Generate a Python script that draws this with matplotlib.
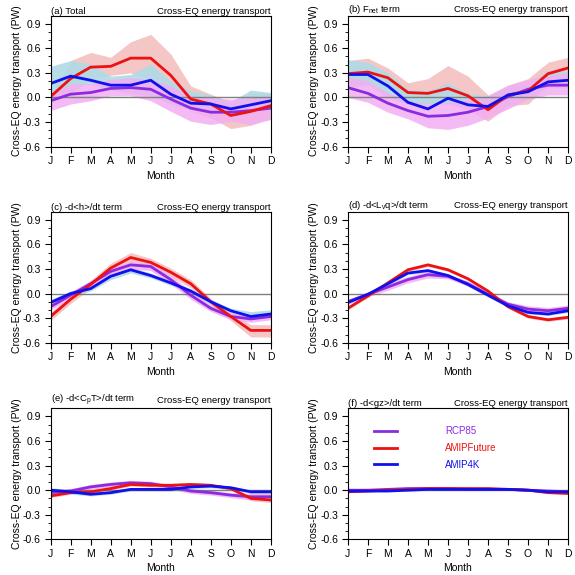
import matplotlib
matplotlib.use("Agg")
import matplotlib.pyplot as plt
import numpy as np

plt.rcParams['font.family'] = ['Liberation Sans', 'DejaVu Sans']
plt.rcParams['mathtext.fontset'] = 'custom'
plt.rcParams['mathtext.rm'] = 'Liberation Sans'
plt.rcParams['mathtext.default'] = 'regular'

months = ['J','F','M','A','M','J','J','A','S','O','N','D']
titles_left = ['(a) Total', '(b) F$_{net}$ term', '(c) -d<h>/dt term',
               '(d) -d<L$_v$q>/dt term', '(e) -d<C$_p$T>/dt term', '(f) -d<gz>/dt term']
series_names = ['RCP85', 'AMIPFuture', 'AMIP4K']

# (a)
a_rcp = [-0.04,0.04,0.06,0.11,0.12,0.10,-0.02,-0.13,-0.18,-0.18,-0.16,-0.13]
a_rcp_lo = [-0.16,-0.08,-0.04,0.02,0.02,-0.04,-0.17,-0.29,-0.33,-0.29,-0.33,-0.27]
a_rcp_hi = [0.06,0.16,0.17,0.22,0.24,0.22,0.14,0.02,0.0,-0.02,0.0,0.0]
a_fut = [0.01,0.23,0.37,0.38,0.48,0.48,0.27,-0.02,-0.08,-0.22,-0.17,-0.10]
a_fut_lo = [-0.03,0.05,0.22,0.27,0.30,0.22,0.05,-0.17,-0.25,-0.38,-0.34,-0.25]
a_fut_hi = [0.03,0.45,0.55,0.49,0.68,0.77,0.53,0.14,0.04,-0.06,0.05,0.05]
a_4k = [0.17,0.26,0.21,0.15,0.15,0.21,0.04,-0.07,-0.08,-0.14,-0.09,-0.04]
a_4k_lo = [-0.04,0.15,0.16,0.09,0.05,0.02,-0.08,-0.15,-0.17,-0.22,-0.15,-0.10]
a_4k_hi = [0.38,0.45,0.41,0.26,0.28,0.41,0.20,0.08,0.03,-0.05,0.09,0.06]
# (b)
b_rcp = [0.12,0.05,-0.07,-0.16,-0.23,-0.22,-0.18,-0.11,0.01,0.10,0.15,0.15]
b_rcp_lo = [0.0,-0.06,-0.18,-0.26,-0.37,-0.39,-0.34,-0.25,-0.14,-0.02,0.03,0.03]
b_rcp_hi = [0.25,0.20,0.06,-0.04,-0.08,-0.06,-0.02,0.02,0.15,0.22,0.27,0.30]
b_fut = [0.29,0.31,0.24,0.06,0.05,0.11,0.02,-0.15,0.03,0.08,0.29,0.36]
b_fut_lo = [0.15,0.16,0.10,-0.06,-0.08,-0.08,-0.15,-0.29,-0.10,-0.08,0.15,0.22]
b_fut_hi = [0.45,0.48,0.36,0.18,0.23,0.39,0.26,0.03,0.15,0.23,0.43,0.49]
b_4k = [0.28,0.28,0.14,-0.06,-0.14,-0.01,-0.09,-0.11,0.03,0.07,0.19,0.21]
b_4k_lo = [0.12,0.15,0.00,-0.08,-0.08,-0.07,-0.12,-0.14,-0.05,0.0,0.12,0.12]
b_4k_hi = [0.46,0.43,0.30,0.10,0.08,0.18,0.05,0.02,0.12,0.17,0.33,0.32]
# (c)
c_rcp = [-0.16,-0.02,0.12,0.27,0.35,0.33,0.17,-0.02,-0.18,-0.28,-0.31,-0.28]
c_rcp_lo = [-0.20,-0.06,0.08,0.22,0.30,0.28,0.12,-0.07,-0.22,-0.32,-0.35,-0.32]
c_rcp_hi = [-0.12,0.02,0.16,0.31,0.39,0.37,0.22,0.03,-0.14,-0.24,-0.27,-0.24]
c_fut = [-0.28,-0.07,0.11,0.31,0.44,0.38,0.26,0.12,-0.10,-0.28,-0.45,-0.45]
c_fut_lo = [-0.33,-0.12,0.06,0.25,0.38,0.33,0.21,0.07,-0.14,-0.33,-0.53,-0.53]
c_fut_hi = [-0.23,-0.02,0.16,0.37,0.50,0.43,0.31,0.17,-0.06,-0.23,-0.38,-0.38]
c_4k = [-0.11,0.00,0.06,0.21,0.29,0.22,0.13,0.03,-0.10,-0.21,-0.28,-0.25]
c_4k_lo = [-0.14,-0.03,0.03,0.17,0.25,0.19,0.10,0.00,-0.13,-0.24,-0.31,-0.28]
c_4k_hi = [-0.07,0.03,0.09,0.24,0.32,0.25,0.16,0.06,-0.07,-0.18,-0.22,-0.20]
# (d)
d_rcp = [-0.10,-0.01,0.08,0.17,0.23,0.21,0.12,-0.01,-0.13,-0.19,-0.21,-0.18]
d_rcp_lo = [-0.13,-0.04,0.04,0.13,0.19,0.18,0.09,-0.04,-0.16,-0.23,-0.25,-0.22]
d_rcp_hi = [-0.07,0.02,0.12,0.21,0.27,0.24,0.15,0.02,-0.10,-0.15,-0.17,-0.14]
d_fut = [-0.18,-0.03,0.13,0.29,0.35,0.29,0.18,0.03,-0.16,-0.28,-0.32,-0.29]
d_fut_lo = [-0.20,-0.05,0.11,0.27,0.33,0.27,0.16,0.01,-0.18,-0.30,-0.34,-0.31]
d_fut_hi = [-0.16,-0.01,0.15,0.31,0.37,0.31,0.20,0.05,-0.14,-0.26,-0.30,-0.27]
d_4k = [-0.11,-0.01,0.12,0.25,0.28,0.22,0.11,-0.02,-0.15,-0.23,-0.25,-0.21]
d_4k_lo = [-0.13,-0.03,0.10,0.23,0.26,0.20,0.09,-0.04,-0.17,-0.25,-0.27,-0.23]
d_4k_hi = [-0.09,0.01,0.14,0.27,0.30,0.24,0.13,0.00,-0.13,-0.21,-0.23,-0.19]
# (e)
e_rcp = [-0.03,-0.01,0.04,0.07,0.09,0.08,0.04,-0.01,-0.03,-0.06,-0.08,-0.08]
e_rcp_lo = [-0.06,-0.04,0.01,0.04,0.06,0.05,0.01,-0.04,-0.06,-0.09,-0.12,-0.12]
e_rcp_hi = [0.00,0.02,0.07,0.10,0.12,0.11,0.07,0.02,0.00,-0.03,-0.04,-0.04]
e_fut = [-0.07,-0.03,-0.02,0.02,0.07,0.06,0.06,0.07,0.06,0.02,-0.10,-0.12]
e_fut_lo = [-0.09,-0.05,-0.04,0.00,0.05,0.04,0.04,0.05,0.04,0.00,-0.13,-0.15]
e_fut_hi = [-0.05,-0.01,0.00,0.04,0.09,0.08,0.08,0.09,0.08,0.04,-0.07,-0.09]
e_4k = [0.00,-0.02,-0.05,-0.03,0.01,0.01,0.01,0.04,0.05,0.03,-0.02,-0.02]
e_4k_lo = [-0.04,-0.05,-0.07,-0.05,-0.01,-0.01,-0.01,0.02,0.03,0.01,-0.04,-0.04]
e_4k_hi = [0.03,0.01,-0.03,-0.01,0.03,0.03,0.03,0.06,0.07,0.05,0.00,0.00]
# (f)
f_rcp = [0.00,0.00,0.01,0.02,0.02,0.02,0.01,0.01,0.01,0.00,-0.01,-0.02]
f_rcp_lo = [-0.01,-0.01,0.00,0.01,0.01,0.01,0.00,0.00,0.00,-0.01,-0.02,-0.03]
f_rcp_hi = [0.01,0.01,0.02,0.03,0.03,0.03,0.02,0.02,0.02,0.01,0.00,-0.01]
f_fut = [-0.02,-0.01,0.00,0.01,0.02,0.02,0.02,0.02,0.01,0.00,-0.03,-0.04]
f_fut_lo = [-0.03,-0.02,-0.01,0.00,0.01,0.01,0.01,0.01,0.00,-0.01,-0.04,-0.05]
f_fut_hi = [-0.01,0.00,0.01,0.02,0.03,0.03,0.03,0.03,0.02,0.01,-0.02,-0.03]
f_4k = [-0.01,-0.01,-0.01,0.00,0.01,0.01,0.01,0.01,0.01,0.00,-0.02,-0.02]
f_4k_lo = [-0.02,-0.02,-0.02,-0.01,0.00,0.00,0.00,0.00,0.00,-0.01,-0.03,-0.03]
f_4k_hi = [0.00,0.00,0.00,0.01,0.02,0.02,0.02,0.02,0.02,0.01,-0.01,-0.01]

panels = [
    (a_rcp,a_rcp_lo,a_rcp_hi,a_fut,a_fut_lo,a_fut_hi,a_4k,a_4k_lo,a_4k_hi),
    (b_rcp,b_rcp_lo,b_rcp_hi,b_fut,b_fut_lo,b_fut_hi,b_4k,b_4k_lo,b_4k_hi),
    (c_rcp,c_rcp_lo,c_rcp_hi,c_fut,c_fut_lo,c_fut_hi,c_4k,c_4k_lo,c_4k_hi),
    (d_rcp,d_rcp_lo,d_rcp_hi,d_fut,d_fut_lo,d_fut_hi,d_4k,d_4k_lo,d_4k_hi),
    (e_rcp,e_rcp_lo,e_rcp_hi,e_fut,e_fut_lo,e_fut_hi,e_4k,e_4k_lo,e_4k_hi),
    (f_rcp,f_rcp_lo,f_rcp_hi,f_fut,f_fut_lo,f_fut_hi,f_4k,f_4k_lo,f_4k_hi),
]

line_cols = ['#8a2be2', '#ee1111', '#1010ee']
fill_cols = ['#f2aef2', '#f4c0c0', '#b0dbe6']

fig = plt.figure(figsize=(5.75, 5.75), dpi=100)
lefts = [0.088, 0.605]
bottoms = [0.745, 0.404, 0.062]
w, h = 0.383, 0.228
x = np.arange(12)
for i, p in enumerate(panels):
    ax = fig.add_axes([lefts[i % 2], bottoms[i // 2], w, h])
    rcp, rlo, rhi, fut, flo, fhi, k4, klo, khi = p
    ax.fill_between(x, flo, fhi, color=fill_cols[1], lw=0, alpha=0.9)
    ax.fill_between(x, klo, khi, color=fill_cols[2], lw=0, alpha=0.9)
    ax.fill_between(x, rlo, rhi, color=fill_cols[0], lw=0, alpha=0.85)
    ax.axhline(0, color='#808080', lw=1)
    ax.plot(x, rcp, color=line_cols[0], lw=2, label=series_names[0])
    ax.plot(x, fut, color=line_cols[1], lw=2, label=series_names[1])
    ax.plot(x, k4, color=line_cols[2], lw=2, label=series_names[2])
    ax.set_xlim(0, 11)
    ax.set_ylim(-0.6, 1.0)
    ax.set_xticks(x)
    ax.set_xticklabels(months)
    ax.set_yticks([-0.6, -0.3, 0.0, 0.3, 0.6, 0.9])
    ax.set_yticklabels(['-0.6', '-0.3', '0.0', '0.3', '0.6', '0.9'])
    ax.set_yticks(np.arange(-0.6, 1.0, 0.1), minor=True)
    ax.tick_params(labelsize=7.5, direction='out', length=4, pad=3)
    ax.tick_params(axis='y', which='minor', direction='out', length=2)
    ax.set_xlabel('Month', fontsize=7.5, labelpad=3)
    ax.set_ylabel('Cross-EQ energy transport (PW)', fontsize=7.5, labelpad=1)
    ax.set_title(titles_left[i], loc='left', fontsize=6.8, pad=1)
    ax.set_title('Cross-EQ energy transport', loc='right', fontsize=6.8, pad=1)
    if i == 5:
        ax.legend(loc='upper left', bbox_to_anchor=(0.08, 0.93), frameon=False,
                  fontsize=7, handlelength=2.3, handletextpad=5,
                  labelcolor='linecolor', labelspacing=0.7)

fig.savefig('out.png', dpi=100)
